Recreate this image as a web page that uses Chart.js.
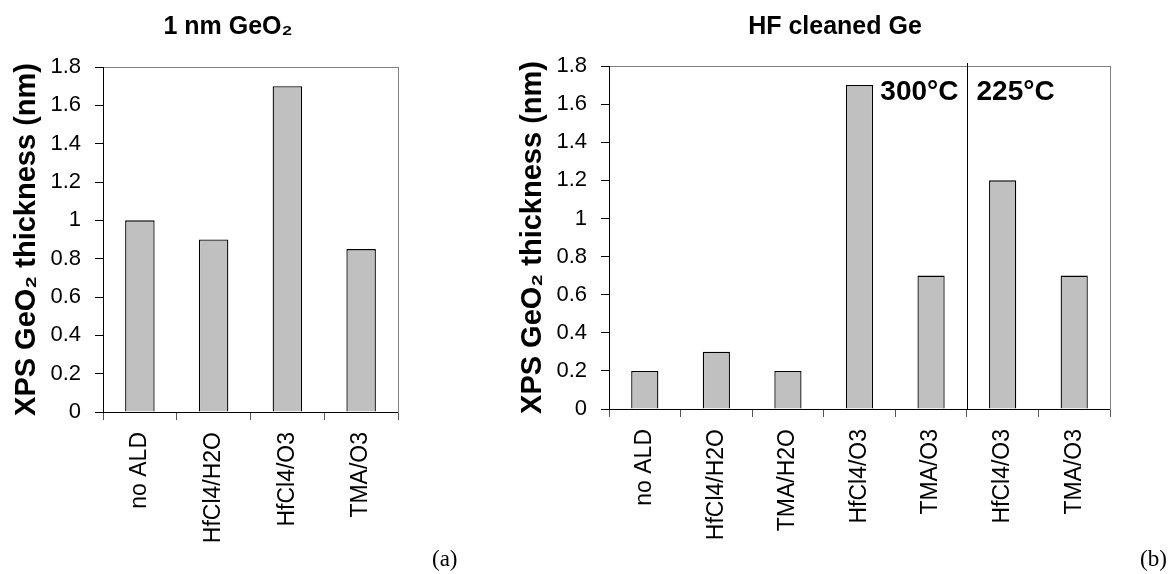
<!DOCTYPE html>
<html>
<head>
<meta charset="utf-8">
<script src="https://cdn.jsdelivr.net/npm/chart.js@4"></script>
<style>
  body { margin: 0; background: #fff; }
  #page { position: relative; width: 1170px; height: 574px; overflow: hidden; }
  canvas { position: absolute; top: 0; }
  #chartA { left: 0; }
  #chartB { left: 506px; }
  .tag { position: absolute; font-family: 'Liberation Serif', 'Times New Roman', serif; font-size: 23px; line-height: 26px; }
</style>
</head>
<body>
<div id="page">
  <canvas id="chartA" width="456" height="574"></canvas>
  <canvas id="chartB" width="658" height="574"></canvas>
  <div class="tag" style="left:432px; top:546px;">(a)</div>
  <div class="tag" style="left:1140px; top:546px;">(b)</div>
</div>
<script>
// 1 nm GeO2 starting layer
const labelsA = ['no ALD', 'HfCl4/H2O', 'HfCl4/O3', 'TMA/O3'];
const thicknessA = [1.0, 0.9, 1.7, 0.85];

// HF cleaned Ge
const labelsB = ['no ALD', 'HfCl4/H2O', 'TMA/H2O', 'HfCl4/O3', 'TMA/O3', 'HfCl4/O3', 'TMA/O3'];
const thicknessB = [0.2, 0.3, 0.2, 1.7, 0.7, 1.2, 0.7];

// bars before index tempSplit were grown at 300°C, the rest at 225°C
const tempLabels = ['300°C', '225°C'];
const tempSplit = 5;

// y axis ticks, 0 .. 1.8 step 0.2
const yTickLabels = ['0', '0.2', '0.4', '0.6', '0.8', '1', '1.2', '1.4', '1.6', '1.8'];
const yTitle = 'XPS GeO₂ thickness (nm)';

const FONT = "'Liberation Sans', Arial, sans-serif";
Chart.defaults.font.family = FONT;
Chart.defaults.color = '#000';

// force a scale box to a fixed size so both plots line up
function fixedSize(size) {
    return function(scale) {
        if (scale.isHorizontal()) scale.height = size;
        else scale.width = size;
    };
}

// vertical split line + temperature labels
const tempSplitPlugin = {
    id: 'tempSplit',
    afterDatasetsDraw(chart) {
        const { ctx, chartArea, scales } = chart;
        const x = scales.x;
        const xs = Math.round((x.getPixelForValue(tempSplit - 1) + x.getPixelForValue(tempSplit)) / 2) + 0.5;
        ctx.save();
        ctx.strokeStyle = '#000';
        ctx.lineWidth = 1;
        ctx.beginPath();
        ctx.moveTo(xs, chartArea.top - 3);
        ctx.lineTo(xs, chartArea.bottom);
        ctx.stroke();
        ctx.font = 'bold 28px ' + FONT;
        ctx.fillStyle = '#000';
        ctx.textBaseline = 'alphabetic';
        ctx.textAlign = 'right';
        ctx.fillText(tempLabels[0], xs - 9, chartArea.top + 34);
        ctx.textAlign = 'left';
        ctx.fillText(tempLabels[1], xs + 9, chartArea.top + 34);
        ctx.restore();
    }
};

function makeChart(id, title, labels, values, opts) {
    return new Chart(document.getElementById(id), {
        type: 'bar',
        data: {
            labels: labels,
            datasets: [{
                data: values,
                backgroundColor: '#c0c0c0',
                borderColor: '#000',
                borderWidth: 1.3,
                barPercentage: opts.barPct,
                categoryPercentage: 1
            }]
        },
        options: {
            responsive: false,
            animation: false,
            devicePixelRatio: 1,
            layout: { padding: 0 },
            plugins: {
                legend: { display: false },
                tooltip: { enabled: false },
                title: {
                    display: true,
                    text: title,
                    color: '#000',
                    font: { size: 25, weight: 'bold' },
                    padding: { top: 12, bottom: 0 }
                }
            },
            scales: {
                x: {
                    position: 'bottom',
                    ticks: { font: { size: 23 }, color: '#000', minRotation: 90, maxRotation: 90, autoSkip: false, padding: 12 },
                    grid: { drawOnChartArea: false, tickLength: 8, tickColor: '#555' },
                    border: { color: '#000', width: 1 },
                    afterFit: fixedSize(opts.bottom)
                },
                // top frame line
                x2: {
                    type: 'category',
                    position: 'top',
                    ticks: { display: false },
                    grid: { drawOnChartArea: false, drawTicks: false },
                    border: { color: '#808080', width: 1 },
                    afterFit: fixedSize(opts.top)
                },
                y: {
                    position: 'left',
                    min: 0,
                    max: 1.8,
                    ticks: {
                        stepSize: 0.2,
                        font: { size: 22 },
                        color: '#000',
                        padding: 14,
                        callback: v => yTickLabels[Math.round(v / 0.2)]
                    },
                    grid: { drawOnChartArea: false, tickLength: 8, tickColor: '#000' },
                    border: { color: '#000', width: 1 },
                    title: {
                        display: true,
                        text: yTitle,
                        color: '#000',
                        font: { size: 29, weight: 'bold' },
                        padding: { top: 10, bottom: 0 }
                    },
                    afterFit: fixedSize(103)
                },
                // right frame line
                y2: {
                    type: 'linear',
                    position: 'right',
                    ticks: { display: false },
                    grid: { drawOnChartArea: false, drawTicks: false },
                    border: { color: '#808080', width: 1 },
                    afterFit: fixedSize(opts.right)
                }
            }
        },
        plugins: opts.plugins || []
    });
}

makeChart('chartA', '1 nm GeO₂', labelsA, thicknessA, { barPct: 0.4, top: 25, bottom: 162, right: 58 });
makeChart('chartB', 'HF cleaned Ge', labelsB, thicknessB, { barPct: 0.38, top: 24, bottom: 165, right: 54, plugins: [tempSplitPlugin] });
</script>
</body>
</html>
